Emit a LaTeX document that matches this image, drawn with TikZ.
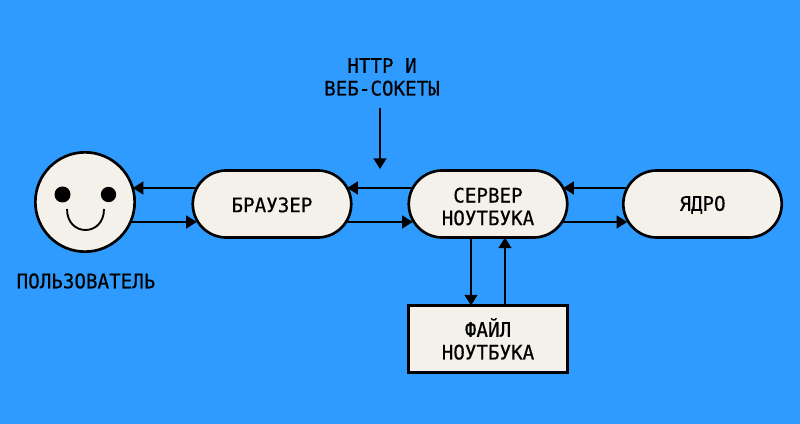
\documentclass[tikz,border=0pt]{standalone}
\usepackage{fontspec}
\setmainfont[FakeStretch=0.96,FakeBold=0.4]{DejaVu Sans Mono}
\usetikzlibrary{shapes.misc, arrows.meta}
\definecolor{skyblue}{HTML}{2F9BFF}
\definecolor{cream}{HTML}{F3F1EA}
\tikzstyle{arrow}   = [line width=1.8pt,-{Triangle[length=8pt,width=9.5pt]}]
\tikzstyle{label}   = [align=center, font=\fontsize{15}{17}\selectfont]
\tikzstyle{pill}    = [draw=black, rounded rectangle, fill=cream, line width=2pt, outer sep=0pt, minimum width=125.5pt, minimum height=50.25pt, label]
\tikzstyle{filebox} = [draw=black, fill=cream, line width=2pt, outer sep=0pt, minimum width=119pt, minimum height=50.25pt, label]

\begin{document}
\begin{tikzpicture}[x=0.75pt,y=-0.75pt]
      \fill[skyblue] (0,0) rectangle (800,424);
      % User with face
      \node[draw=black, circle, fill=cream, line width=2pt, outer sep=0pt, minimum size=74.5pt] (user) at (85,202) {};
      \node[circle, fill=black, inner sep=0pt, minimum size=12pt] (lefteye) at (62.5,194.5) {};
      \node[circle, fill=black, inner sep=0pt, minimum size=11.5pt] (righteye) at (108.5,194.5) {};
      \draw[line width=1.4pt] (67,209) .. controls (67,237) and (104,237) .. (104,209);
      \node[label] (username) at (86,281) {ПОЛЬЗОВАТЕЛЬ};
      % Main row
      \node[pill] (browser) at (272,204) {\rule{0pt}{12.5pt}БРАУЗЕР};
      \node[pill] (server) at (488,204) {\rule{0pt}{15pt}СЕРВЕР\\НОУТБУКА};
      \node[pill] (kernel) at (702.5,204) {\rule{0pt}{12.5pt}ЯДРО};
      % File
      \node[filebox] (file) at (488,339) {ФАЙЛ\\НОУТБУКА};
      % Protocol label
      \node[label] (proto) at (382,77) {HTTP И~\\ВЕБ-СОКЕТЫ};
      \coordinate (protostart) at (380,108);
      \coordinate (prototip) at (380,169);
      % Arrows
      \draw[arrow] (protostart) -- (prototip);
      \draw[arrow] ([xshift=3pt,yshift=12pt]browser.west) -- ([xshift=-1.5pt,yshift=10.5pt]user.east);
      \draw[arrow] ([xshift=-3pt,yshift=-15pt]user.east) -- ([xshift=3pt,yshift=-13.5pt]browser.west);
      \draw[arrow] ([xshift=3pt,yshift=12pt]server.west) -- ([xshift=-3pt,yshift=12pt]browser.east);
      \draw[arrow] ([xshift=-3pt,yshift=-13.5pt]browser.east) -- ([xshift=3pt,yshift=-13.5pt]server.west);
      \draw[arrow] ([xshift=3pt,yshift=12pt]kernel.west) -- ([xshift=-3pt,yshift=12pt]server.east);
      \draw[arrow] ([xshift=-3pt,yshift=-13.5pt]server.east) -- ([xshift=3pt,yshift=-13.5pt]kernel.west);
      \draw[arrow] ([xshift=-12.75pt]server.south) -- ([xshift=-12.75pt]file.north);
      \draw[arrow] ([xshift=12.75pt]file.north) -- ([xshift=12.75pt]server.south);
    \end{tikzpicture}
\end{document}
